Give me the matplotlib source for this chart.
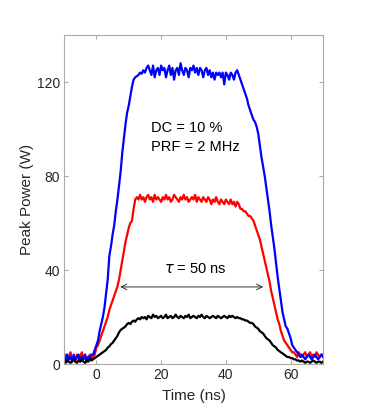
import numpy as np
import matplotlib.pyplot as plt

plt.rcParams['font.family'] = ['Liberation Sans', 'DejaVu Sans']

# time axis, 0.5 ns sampling from -10 to 70 ns
t = np.arange(-10, 70.25, 0.5)

blue = [3, 1, 4, 2, 3, 1, 4, 2, 3, 4, 1, 3, 2, 4, 1, 3, 2, 4, 4, 6,
        8, 10, 14, 17, 20, 24, 30, 36, 46, 50, 55, 59, 65, 70, 76, 82, 90, 96, 102, 107,
        110, 114, 118, 121, 122, 122.5, 123, 124, 123.5, 125, 124, 126, 127, 125, 123, 127, 122, 125, 126, 123,
        127, 125, 126, 122, 125, 127, 123, 126, 121, 125, 126, 123, 128, 125, 123, 126, 125, 122, 126, 125,
        127, 124, 126, 123, 126, 125, 122, 125, 126, 123, 125, 122, 124, 121, 124, 123, 124, 122, 124, 119,
        124, 123, 121, 124, 123, 121, 124, 125, 123, 121, 119, 117, 115, 113, 110, 108, 106, 104, 103, 101,
        98, 93, 88, 84, 80, 75, 70, 65, 59, 54, 49, 43, 37, 32, 27, 22, 19, 16, 15, 13,
        11, 8, 7, 6, 5, 4, 3, 4, 3, 2, 3, 4, 3, 2, 3, 4, 3, 2, 3, 4,
        3]

red = [2, 4, 1, 3, 5, 2, 3, 1, 4, 2, 3, 5, 2, 4, 1, 3, 4, 2, 3, 4,
       7, 8, 10, 12, 14, 16, 18, 20, 23, 25, 27, 29, 31, 33, 36, 40, 44, 48, 52, 55,
       58, 60, 61, 66, 70, 71, 70, 72, 70, 71, 69, 71, 72, 70, 71, 69, 72, 70, 71, 70,
       69, 71, 70, 72, 70, 71, 69, 70, 72, 71, 70, 69, 71, 70, 72, 70, 71, 69, 70, 71,
       70, 72, 69, 71, 70, 69, 71, 70, 69, 71, 70, 68, 70, 69, 71, 69, 68, 70, 69, 68,
       70, 69, 68, 70, 68, 69, 67, 69, 68, 66, 66, 65, 65, 64, 63, 63, 62, 61, 59, 57,
       55, 53, 50, 47, 44, 41, 38, 35, 31, 28, 25, 22, 19, 17, 14, 12, 10, 9, 8, 7,
       6, 5, 5, 4, 3, 5, 4, 3, 4, 5, 3, 4, 5, 3, 4, 3, 5, 4, 3, 4,
       4]

black = [1, 0.5, 1.5, 1, 0.5, 1, 2, 1, 0.5, 1.5, 1, 2, 1, 0.5, 1.5, 1, 2, 1.5, 2, 2.5,
         3, 3.5, 4, 4.5, 5, 5.5, 6, 7, 7.5, 8.5, 9, 10, 11, 12, 13.5, 14.5, 15, 15.5, 16, 17,
         17.5, 17, 18, 18.5, 18, 19, 19.5, 19, 20, 19.5, 20, 19, 20.5, 20, 19.5, 21, 20, 20.5, 19.5, 20,
         20.5, 19.5, 20, 21, 19.5, 20, 20.5, 19.5, 20, 21, 20, 19.5, 20.5, 20, 19.5, 20.5, 20, 21, 19.5, 20,
         20.5, 20, 19.5, 20.5, 20, 21, 20, 19.5, 20.5, 20, 19.5, 20, 20.5, 20, 19.5, 20.5, 20, 19.5, 20, 20.5,
         20, 19.5, 20.5, 20, 20.5, 20, 19.5, 20, 19.5, 19.5, 19, 19, 18.5, 18.5, 18, 17.5, 17.5, 17, 16, 15.5,
         15, 14, 13.5, 13, 12, 11, 10.5, 10, 9, 8, 7.5, 7, 6, 5.5, 5, 4.5, 4, 3.5, 3, 3,
         2.5, 2.5, 2, 2, 1.5, 1.5, 1, 1.5, 1, 0.5, 1, 1, 0.5, 1, 1.5, 1, 0.5, 1, 1, 0.5,
         1]

fig = plt.figure(figsize=(3.87, 4.08), dpi=100)
ax = fig.add_axes([0.1654, 0.1078, 0.6692, 0.8064])

ax.plot(t, red, color='#ff0000', lw=1.6)
ax.plot(t, blue, color='#0000ff', lw=1.6)
ax.plot(t, black, color='black', lw=1.6)

ax.set_xlim(-10, 70)
ax.set_ylim(0, 140)
ax.set_xticks([0, 20, 40, 60])
ax.set_yticks([0, 40, 80, 120])
ax.tick_params(direction='in', top=True, right=True, length=3,
               color='#aaaaaa', labelcolor='#262626', labelsize=10, pad=3)
for s in ax.spines.values():
    s.set_color('#aaaaaa')
    s.set_linewidth(0.8)

ax.set_xlabel('Time (ns)', fontsize=11, color='#262626', labelpad=5)
ax.set_ylabel('Peak Power (W)', fontsize=11, color='#262626', labelpad=2)

ax.text(17, 100.5, 'DC = 10 %', fontsize=10.5, color='black', va='center')
ax.text(17, 92.5, 'PRF = 2 MHz', fontsize=10.5, color='black', va='center')
ax.text(30.7, 40.5, r'$\tau$ = 50 ns', fontsize=10.5, color='black', ha='center', va='center')
ax.annotate('', xy=(6.5, 32.8), xytext=(52.4, 32.8),
            arrowprops=dict(arrowstyle='<->', color='#333333', lw=0.7))

fig.savefig('out.png', dpi=100)
